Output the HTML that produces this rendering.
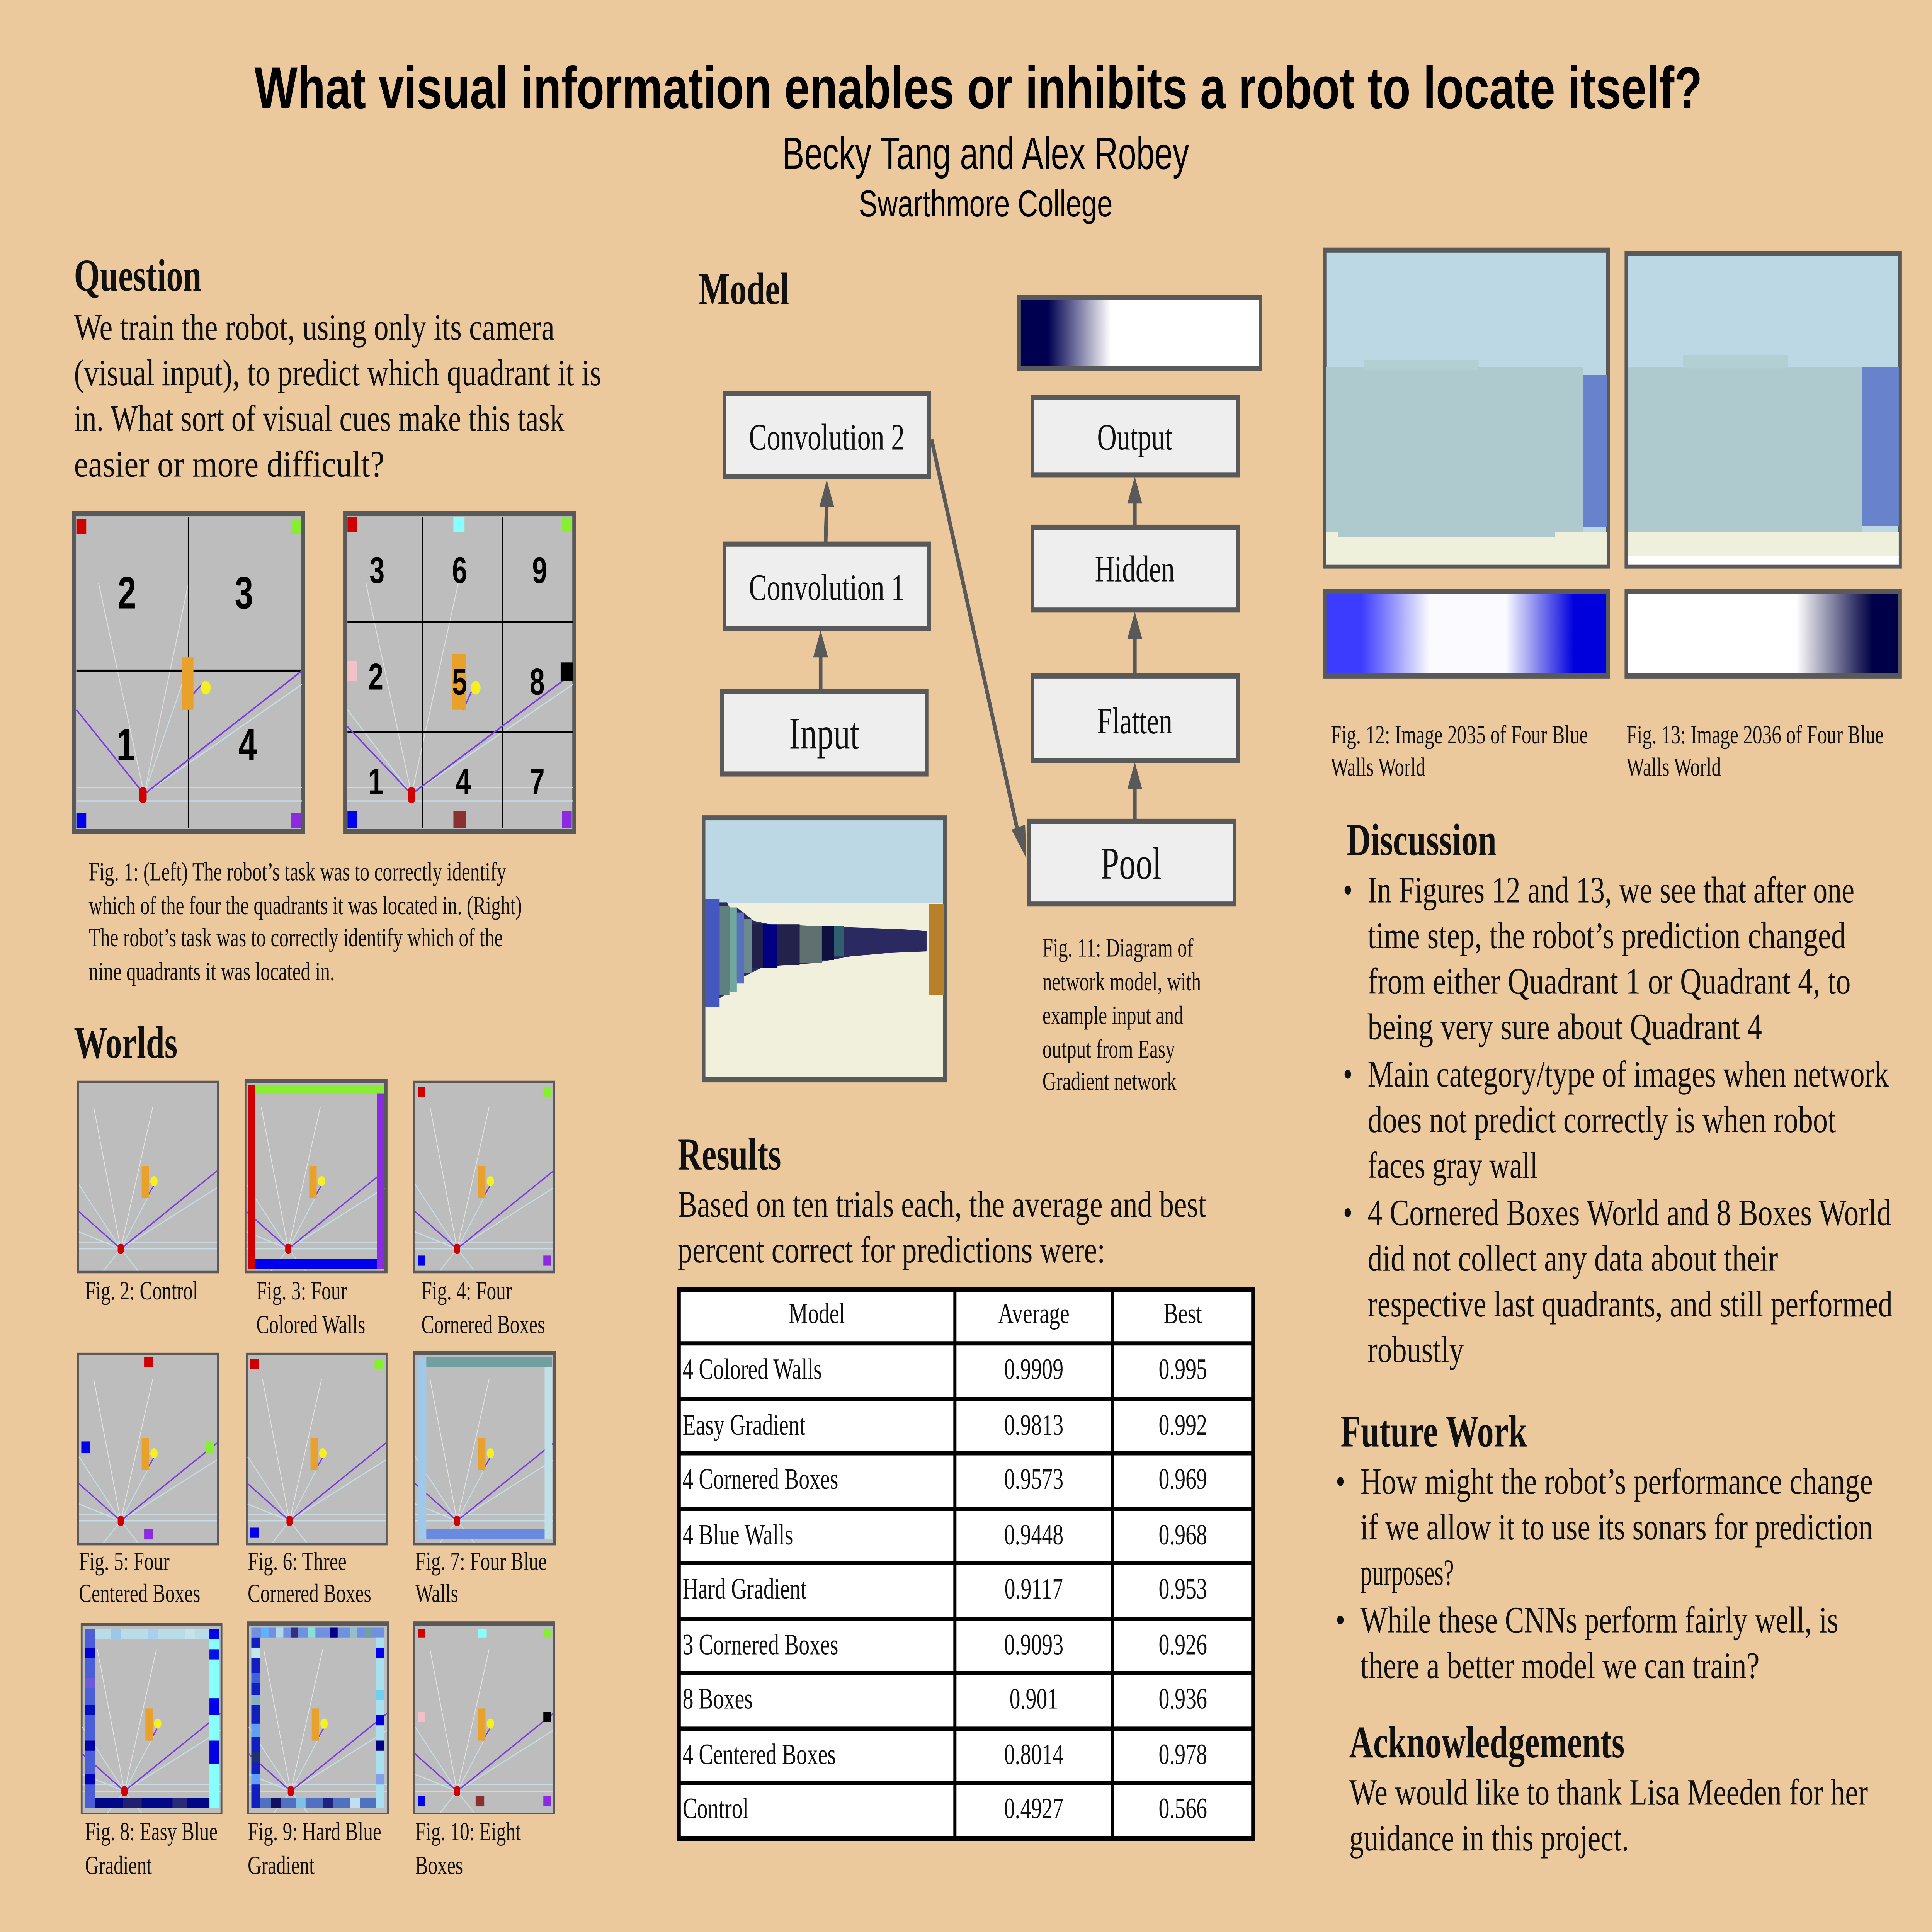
<!DOCTYPE html>
<html><head><meta charset="utf-8"><style>
html,body{margin:0;padding:0;background:#ebc99d;width:100%;height:100%;overflow:hidden;}
svg{display:block;position:absolute;left:0;top:0;width:100%;height:100%}
.s{font-family:"Liberation Serif",serif;fill:#111}
.b{font-family:"Liberation Serif",serif;font-weight:bold;fill:#111}
.n{font-family:"Liberation Sans",sans-serif;font-weight:bold;fill:#000}
</style></head><body>
<svg viewBox="0 0 1568 1143.3" preserveAspectRatio="none" xmlns="http://www.w3.org/2000/svg">
<defs>
<g id="th">
<rect x="0" y="0" width="112" height="111" fill="#bdbdbd"/>
<g stroke="#e4e4e4" stroke-width="0.6">
<line x1="34" y1="98" x2="12" y2="14"/><line x1="34" y1="98" x2="60" y2="14"/>
</g>
<g stroke="#c8dce6" stroke-width="0.7">
<line x1="34" y1="98" x2="0" y2="60"/><line x1="34" y1="98" x2="0" y2="88"/>
<line x1="34" y1="98" x2="60" y2="62"/><line x1="34" y1="98" x2="112" y2="62"/>
<line x1="0" y1="94" x2="112" y2="94"/><line x1="0" y1="98" x2="112" y2="98"/>
<line x1="34" y1="98" x2="20" y2="111"/><line x1="34" y1="98" x2="48" y2="111"/>
</g>
<g stroke="#7a3ee0" stroke-width="0.9">
<line x1="34" y1="98" x2="112" y2="52"/><line x1="34" y1="98" x2="0" y2="76"/><line x1="55" y1="68" x2="62" y2="59"/>
</g>
<rect x="51" y="49" width="6" height="19" fill="#e8a22b"/>
<circle cx="61" cy="58" r="3" fill="#f5f020"/>
<rect x="31.5" y="95" width="5" height="6" rx="2" fill="#d00000"/>
</g>
<linearGradient id="g1" x1="0" x2="1"><stop offset="0" stop-color="#000050"/><stop offset="0.12" stop-color="#000050"/><stop offset="0.38" stop-color="#ffffff"/><stop offset="1" stop-color="#ffffff"/></linearGradient>
<linearGradient id="g2" x1="0" x2="1"><stop offset="0" stop-color="#3c3cff"/><stop offset="0.13" stop-color="#3c3cff"/><stop offset="0.37" stop-color="#fafaff"/><stop offset="0.64" stop-color="#fafaff"/><stop offset="0.88" stop-color="#0000dd"/><stop offset="1" stop-color="#0000dd"/></linearGradient>
<linearGradient id="g3" x1="0" x2="1"><stop offset="0" stop-color="#ffffff"/><stop offset="0.62" stop-color="#ffffff"/><stop offset="0.85" stop-color="#2a2a60"/><stop offset="0.9" stop-color="#000048"/><stop offset="1" stop-color="#000048"/></linearGradient>
</defs>
<rect width="1568" height="1143.3" fill="#ebc99d"/>

<!-- header -->
<text x="794" y="64" text-anchor="middle" font-family="Liberation Sans,sans-serif" font-weight="bold" font-size="35" textLength="1175" lengthAdjust="spacingAndGlyphs" fill="#000">What visual information enables or inhibits a robot to locate itself?</text>
<text x="800" y="100" text-anchor="middle" font-family="Liberation Sans,sans-serif" font-size="27" textLength="330" lengthAdjust="spacingAndGlyphs" fill="#000">Becky Tang and Alex Robey</text>
<text x="800" y="128" text-anchor="middle" font-family="Liberation Sans,sans-serif" font-size="22" textLength="206" lengthAdjust="spacingAndGlyphs" fill="#000">Swarthmore College</text>

<!-- Question -->
<text x="60" y="172" class="b" font-size="27">Question</text>
<g class="s" font-size="22">
<text x="60" y="201" textLength="390" lengthAdjust="spacingAndGlyphs">We train the robot, using only its camera</text>
<text x="60" y="228" textLength="428" lengthAdjust="spacingAndGlyphs">(visual input), to predict which quadrant it is</text>
<text x="60" y="255" textLength="398" lengthAdjust="spacingAndGlyphs">in. What sort of visual cues make this task</text>
<text x="60" y="282" textLength="252" lengthAdjust="spacingAndGlyphs">easier or more difficult?</text>
</g>

<!-- Fig1 left -->
<rect x="60" y="304" width="186" height="188" fill="#bdbdbd" stroke="#595959" stroke-width="3"/>
<g stroke="#dedede" stroke-width="0.7"><line x1="117" y1="470" x2="80" y2="345"/><line x1="117" y1="470" x2="153" y2="345"/></g>
<g stroke="#c8dce6" stroke-width="0.8"><line x1="117" y1="470" x2="62" y2="420"/><line x1="117" y1="470" x2="150" y2="400"/><line x1="117" y1="470" x2="245" y2="405"/><line x1="62" y1="466" x2="245" y2="466"/><line x1="62" y1="474" x2="245" y2="474"/></g>
<line x1="153" y1="306" x2="153" y2="490" stroke="#000" stroke-width="1.2"/>
<line x1="62" y1="397" x2="245" y2="397" stroke="#000" stroke-width="1.5"/>
<g stroke="#7a3ee0" stroke-width="1"><line x1="117" y1="470" x2="245" y2="397"/><line x1="117" y1="470" x2="62" y2="420"/><line x1="155" y1="412" x2="164" y2="405"/></g>
<rect x="148" y="389" width="9" height="31" fill="#e8a22b"/>
<circle cx="167" cy="407" r="4" fill="#f5f020"/>
<rect x="113" y="466" width="6" height="9" rx="2" fill="#d00000"/>
<rect x="62" y="307" width="8" height="9" fill="#d00000"/><rect x="236" y="307" width="8" height="9" fill="#88ee33"/>
<rect x="62" y="481" width="8" height="9" fill="#0000ee"/><rect x="236" y="481" width="8" height="9" fill="#8a2be2"/>
<g class="n" font-size="27" text-anchor="middle"><text x="103" y="360">2</text><text x="198" y="360">3</text><text x="102" y="450">1</text><text x="201" y="450">4</text></g>

<!-- Fig1 right -->
<rect x="280" y="304" width="186" height="188" fill="#bdbdbd" stroke="#595959" stroke-width="3"/>
<g stroke="#dedede" stroke-width="0.7"><line x1="334" y1="470" x2="297" y2="345"/><line x1="334" y1="470" x2="372" y2="345"/></g>
<g stroke="#c8dce6" stroke-width="0.8"><line x1="282" y1="466" x2="465" y2="466"/><line x1="282" y1="474" x2="465" y2="474"/><line x1="334" y1="470" x2="465" y2="405"/><line x1="334" y1="470" x2="282" y2="420"/></g>
<g stroke="#000" stroke-width="1.2"><line x1="343" y1="306" x2="343" y2="490"/><line x1="408" y1="306" x2="408" y2="490"/><line x1="282" y1="368" x2="465" y2="368"/><line x1="282" y1="433" x2="465" y2="433"/></g>
<g stroke="#7a3ee0" stroke-width="1"><line x1="334" y1="470" x2="462" y2="400"/><line x1="334" y1="470" x2="282" y2="430"/><line x1="376" y1="420" x2="384" y2="407"/></g>
<rect x="367" y="387" width="11" height="33" fill="#e8a22b"/>
<circle cx="386" cy="407" r="4" fill="#f5f020"/>
<rect x="331" y="466" width="6" height="9" rx="2" fill="#d00000"/>
<rect x="282" y="306" width="8" height="9" fill="#d00000"/><rect x="368" y="306" width="9" height="9" fill="#88ffff"/><rect x="456" y="306" width="8" height="9" fill="#88ee33"/>
<rect x="282" y="391" width="8" height="12" fill="#f2c0c8"/><rect x="455" y="392" width="10" height="11" fill="#000"/>
<rect x="282" y="480" width="8" height="10" fill="#0000ee"/><rect x="368" y="480" width="10" height="10" fill="#8b3030"/><rect x="456" y="480" width="8" height="10" fill="#8a2be2"/>
<g class="n" font-size="22" text-anchor="middle"><text x="306" y="345">3</text><text x="373" y="345">6</text><text x="438" y="345">9</text><text x="305" y="408">2</text><text x="373" y="411">5</text><text x="436" y="411">8</text><text x="305" y="470">1</text><text x="376" y="470">4</text><text x="436" y="470">7</text></g>

<g class="s" font-size="15.5">
<text x="72" y="521">Fig. 1: (Left) The robot’s task was to correctly identify</text>
<text x="72" y="541">which of the four the quadrants it was located in. (Right)</text>
<text x="72" y="560">The robot’s task was to correctly identify which of the</text>
<text x="72" y="580">nine quadrants it was located in.</text>
</g>

<!-- Worlds -->
<text x="60" y="626" class="b" font-size="27">Worlds</text>
<g stroke="#595959" stroke-width="3" fill="none">
<rect x="64" y="641" width="112" height="111"/>
<rect x="200" y="640" width="113" height="112"/>
<rect x="337" y="641" width="112" height="111"/>
<rect x="64" y="802" width="112" height="111"/>
<rect x="201" y="802" width="112" height="111"/>
<rect x="337" y="801" width="113" height="112"/>
<rect x="67" y="962" width="112" height="110"/>
<rect x="202" y="961" width="112" height="111"/>
<rect x="337" y="961" width="112" height="111"/>
</g>
<use href="#th" transform="translate(64,641)"/>
<use href="#th" transform="translate(200,641)"/>
<use href="#th" transform="translate(337,641)"/>
<use href="#th" transform="translate(64,802)"/>
<use href="#th" transform="translate(201,802)"/>
<use href="#th" transform="translate(337,802)"/>
<use href="#th" transform="translate(67,962)"/>
<use href="#th" transform="translate(202,962)"/>
<use href="#th" transform="translate(337,962)"/>
<rect x="201" y="642" width="6" height="109" fill="#d00000"/>
<rect x="207" y="642" width="105" height="5" fill="#88ee33"/>
<rect x="306" y="647" width="6" height="104" fill="#8a2be2"/>
<rect x="207" y="745" width="99" height="6" fill="#0000ee"/>
<rect x="339" y="643" width="6" height="6" fill="#d00000"/><rect x="441" y="643" width="6" height="6" fill="#88ee33"/>
<rect x="339" y="743" width="6" height="6" fill="#0000ee"/><rect x="441" y="743" width="6" height="6" fill="#8a2be2"/>
<rect x="117" y="803" width="7" height="6" fill="#d00000"/><rect x="66" y="853" width="7" height="7" fill="#0000ee"/>
<rect x="167" y="853" width="7" height="7" fill="#88ee33"/><rect x="117" y="905" width="7" height="6" fill="#8a2be2"/>
<rect x="203" y="804" width="7" height="6" fill="#d00000"/><rect x="304" y="804" width="7" height="6" fill="#88ee33"/><rect x="203" y="904" width="7" height="6" fill="#0000ee"/>
<rect x="339" y="803" width="7" height="108" fill="#a0c8e8"/><rect x="346" y="803" width="102" height="6" fill="#70a0a0"/>
<rect x="442" y="809" width="6" height="102" fill="#c0e0e8"/><rect x="346" y="905" width="96" height="6" fill="#6a8ae0"/>
<g>
<rect x="69" y="964" width="8" height="106" fill="#4a5ed8"/>
<rect x="69" y="975" width="8" height="6" fill="#0000cc"/><rect x="69" y="993" width="8" height="6" fill="#6c5ad8"/><rect x="69" y="1009" width="8" height="6" fill="#0010c0"/><rect x="69" y="1030" width="8" height="6" fill="#0000aa"/><rect x="69" y="1050" width="8" height="6" fill="#0000bb"/>
<rect x="77" y="964" width="93" height="6" fill="#b8dce8"/>
<rect x="90" y="964" width="8" height="6" fill="#9cc8e8"/><rect x="120" y="964" width="8" height="6" fill="#a8d0ee"/><rect x="150" y="964" width="8" height="6" fill="#c4e4ea"/>
<rect x="170" y="964" width="8" height="106" fill="#88ffff"/>
<rect x="170" y="964" width="8" height="6" fill="#0000ee"/><rect x="170" y="976" width="8" height="6" fill="#0010e8"/><rect x="170" y="1005" width="8" height="10" fill="#0000ee"/><rect x="170" y="1030" width="8" height="14" fill="#0000e0"/>
<rect x="77" y="1064" width="93" height="6" fill="#000888"/>
<rect x="100" y="1064" width="15" height="6" fill="#202070"/><rect x="140" y="1064" width="12" height="6" fill="#2a2a7a"/>
</g>
<g>
<rect x="204" y="963" width="108" height="6" fill="#7090e0"/>
<rect x="212" y="963" width="6" height="6" fill="#60b0ff"/><rect x="224" y="963" width="6" height="6" fill="#b0d8e8"/><rect x="236" y="963" width="6" height="6" fill="#303080"/><rect x="250" y="963" width="6" height="6" fill="#88e0d8"/><rect x="268" y="963" width="6" height="6" fill="#000088"/><rect x="284" y="963" width="6" height="6" fill="#90c0d0"/><rect x="296" y="963" width="6" height="6" fill="#70a0a0"/>
<rect x="204" y="969" width="7" height="101" fill="#1020c0"/>
<rect x="204" y="975" width="7" height="6" fill="#c0e8f0"/><rect x="204" y="990" width="7" height="6" fill="#4060e0"/><rect x="204" y="1003" width="7" height="6" fill="#88b0c8"/><rect x="204" y="1020" width="7" height="8" fill="#60a0f0"/><rect x="204" y="1037" width="7" height="6" fill="#203070"/><rect x="204" y="1050" width="7" height="6" fill="#60a0ff"/>
<rect x="305" y="969" width="7" height="101" fill="#a8e0f0"/>
<rect x="305" y="975" width="7" height="6" fill="#0000ee"/><rect x="305" y="1000" width="7" height="6" fill="#70d0f0"/><rect x="305" y="1015" width="7" height="6" fill="#0000dd"/><rect x="305" y="1030" width="7" height="6" fill="#000080"/><rect x="305" y="1050" width="7" height="6" fill="#80a0e8"/>
<rect x="211" y="1064" width="94" height="6" fill="#5070c0"/>
<rect x="220" y="1064" width="8" height="6" fill="#101060"/><rect x="240" y="1064" width="8" height="6" fill="#80c0e8"/><rect x="262" y="1064" width="8" height="6" fill="#202080"/><rect x="284" y="1064" width="8" height="6" fill="#c0e0f0"/>
</g>
<rect x="339" y="964" width="6" height="5" fill="#d00000"/><rect x="388" y="964" width="7" height="5" fill="#88ffff"/><rect x="441" y="964" width="6" height="5" fill="#88ee33"/>
<rect x="339" y="1013" width="6" height="6" fill="#f2c0c8"/><rect x="441" y="1013" width="6" height="6" fill="#000"/>
<rect x="339" y="1063" width="6" height="6" fill="#0000ee"/><rect x="386" y="1063" width="7" height="6" fill="#8b3030"/><rect x="441" y="1063" width="6" height="6" fill="#8a2be2"/>

<g class="s" font-size="15.5">
<text x="69" y="769">Fig. 2: Control</text>
<text x="208" y="769">Fig. 3: Four</text><text x="208" y="789">Colored Walls</text>
<text x="342" y="769">Fig. 4: Four</text><text x="342" y="789">Cornered Boxes</text>
<text x="64" y="929">Fig. 5: Four</text><text x="64" y="948">Centered Boxes</text>
<text x="201" y="929">Fig. 6: Three</text><text x="201" y="948">Cornered Boxes</text>
<text x="337" y="929">Fig. 7: Four Blue</text><text x="337" y="948">Walls</text>
<text x="69" y="1089">Fig. 8: Easy Blue</text><text x="69" y="1109">Gradient</text>
<text x="201" y="1089">Fig. 9: Hard Blue</text><text x="201" y="1109">Gradient</text>
<text x="337" y="1089">Fig. 10: Eight</text><text x="337" y="1109">Boxes</text>
</g>

<!-- Model -->
<text x="567" y="180" class="b" font-size="27">Model</text>
<rect x="827" y="176" width="196" height="42" fill="url(#g1)" stroke="#595959" stroke-width="3"/>
<g fill="#eeeeee" stroke="#595959" stroke-width="3">
<rect x="588" y="233" width="166" height="49"/>
<rect x="588" y="322" width="166" height="50"/>
<rect x="586" y="409" width="166" height="49"/>
<rect x="838" y="235" width="167" height="46"/>
<rect x="838" y="312" width="167" height="49"/>
<rect x="838" y="400" width="167" height="50"/>
<rect x="835" y="486" width="167" height="49"/>
</g>
<g stroke="#595959" stroke-width="3" fill="none">
<line x1="670" y1="322" x2="671" y2="298"/>
<line x1="666" y1="409" x2="666" y2="388"/>
<line x1="921" y1="312" x2="921" y2="297"/>
<line x1="921" y1="400" x2="921" y2="377"/>
<line x1="921" y1="486" x2="921" y2="466"/>
<line x1="756" y1="260" x2="826" y2="492"/>
</g>
<g fill="#595959">
<polygon points="671,284 665,300 677,300"/>
<polygon points="666,373 660,389 672,389"/>
<polygon points="921,282 915,298 927,298"/>
<polygon points="921,362 915,378 927,378"/>
<polygon points="921,451 915,467 927,467"/>
<polygon points="833,508 821,491 832,488"/>
</g>
<g class="s" text-anchor="middle" fill="#000">
<text x="671" y="266" font-size="22">Convolution 2</text>
<text x="671" y="355" font-size="22">Convolution 1</text>
<text x="669" y="443" font-size="27">Input</text>
<text x="921" y="266" font-size="22">Output</text>
<text x="921" y="344" font-size="22">Hidden</text>
<text x="921" y="434" font-size="22">Flatten</text>
<text x="918" y="520" font-size="27">Pool</text>
</g>
<rect x="571" y="484" width="196" height="155" fill="#f0f0dc" stroke="#595959" stroke-width="3"/>
<rect x="572.5" y="485.5" width="193" height="49" fill="#bcd8e5"/>
<polygon points="572,532 583,532 583,534 590,534 592,537 598,537 605,541 612,545 625,547 660,548 700,549 735,550 752,551 752,563 720,564 690,566 660,570 620,572 598,580 590,588 572,596" fill="#2a2a60"/>
<rect x="572" y="532" width="12" height="64" fill="#4458c0"/>
<rect x="584" y="536" width="8" height="53" fill="#608080"/>
<rect x="592" y="537" width="6" height="50" fill="#70a8a0"/>
<rect x="598" y="540" width="6" height="42" fill="#5870c0"/>
<rect x="604" y="544" width="6" height="32" fill="#6a8a90"/>
<rect x="610" y="547" width="10" height="26" fill="#20204a"/>
<rect x="619" y="547" width="12" height="26" fill="#000080"/>
<rect x="631" y="547" width="18" height="24" fill="#22224a"/>
<rect x="649" y="548" width="18" height="22" fill="#607070"/>
<rect x="667" y="548" width="10" height="20" fill="#101040"/>
<rect x="677" y="548" width="8" height="18" fill="#306070"/>
<rect x="754" y="535" width="12" height="54" fill="#b8802a"/>
<g class="s" font-size="15.5">
<text x="846" y="566">Fig. 11: Diagram of</text>
<text x="846" y="586">network model, with</text>
<text x="846" y="606">example input and</text>
<text x="846" y="626">output from Easy</text>
<text x="846" y="645">Gradient network</text>
</g>

<!-- Results -->
<text x="550" y="692" class="b" font-size="27">Results</text>
<g class="s" font-size="22">
<text x="550" y="720" textLength="429" lengthAdjust="spacingAndGlyphs">Based on ten trials each, the average and best</text>
<text x="550" y="747" textLength="347" lengthAdjust="spacingAndGlyphs">percent correct for predictions were:</text>
</g>
<rect x="551" y="763" width="466" height="325" fill="#fff" stroke="#000" stroke-width="3"/>
<g stroke="#000" stroke-width="2.5">
<line x1="775" y1="763" x2="775" y2="1088"/><line x1="903" y1="763" x2="903" y2="1088"/>
<line x1="551" y1="795" x2="1017" y2="795"/><line x1="551" y1="828" x2="1017" y2="828"/><line x1="551" y1="860" x2="1017" y2="860"/><line x1="551" y1="893" x2="1017" y2="893"/><line x1="551" y1="925" x2="1017" y2="925"/><line x1="551" y1="958" x2="1017" y2="958"/><line x1="551" y1="990" x2="1017" y2="990"/><line x1="551" y1="1023" x2="1017" y2="1023"/><line x1="551" y1="1055" x2="1017" y2="1055"/>
</g>
<g class="s" font-size="17.5" fill="#000">
<text x="663" y="783" text-anchor="middle">Model</text><text x="839" y="783" text-anchor="middle">Average</text><text x="960" y="783" text-anchor="middle">Best</text>
<text x="554" y="816">4 Colored Walls</text><text x="839" y="816" text-anchor="middle">0.9909</text><text x="960" y="816" text-anchor="middle">0.995</text>
<text x="554" y="849">Easy Gradient</text><text x="839" y="849" text-anchor="middle">0.9813</text><text x="960" y="849" text-anchor="middle">0.992</text>
<text x="554" y="881">4 Cornered Boxes</text><text x="839" y="881" text-anchor="middle">0.9573</text><text x="960" y="881" text-anchor="middle">0.969</text>
<text x="554" y="914">4 Blue Walls</text><text x="839" y="914" text-anchor="middle">0.9448</text><text x="960" y="914" text-anchor="middle">0.968</text>
<text x="554" y="946">Hard Gradient</text><text x="839" y="946" text-anchor="middle">0.9117</text><text x="960" y="946" text-anchor="middle">0.953</text>
<text x="554" y="979">3 Cornered Boxes</text><text x="839" y="979" text-anchor="middle">0.9093</text><text x="960" y="979" text-anchor="middle">0.926</text>
<text x="554" y="1011">8 Boxes</text><text x="839" y="1011" text-anchor="middle">0.901</text><text x="960" y="1011" text-anchor="middle">0.936</text>
<text x="554" y="1044">4 Centered Boxes</text><text x="839" y="1044" text-anchor="middle">0.8014</text><text x="960" y="1044" text-anchor="middle">0.978</text>
<text x="554" y="1076">Control</text><text x="839" y="1076" text-anchor="middle">0.4927</text><text x="960" y="1076" text-anchor="middle">0.566</text>
</g>

<!-- right images -->
<rect x="1075" y="148" width="230" height="187" fill="#bcd8e5" stroke="#595959" stroke-width="3"/>
<rect x="1076" y="217" width="209" height="98" fill="#aecacf"/>
<rect x="1107" y="213" width="93" height="6" fill="#b2cfd4"/>
<rect x="1285" y="222" width="19" height="90" fill="#6883cc"/>
<rect x="1076" y="315" width="228" height="19" fill="#eef0dc"/>
<rect x="1086" y="312" width="176" height="6" fill="#aecacf"/>
<rect x="1320" y="150" width="222" height="185" fill="#bcd8e5" stroke="#595959" stroke-width="3"/>
<rect x="1321" y="217" width="190" height="98" fill="#aecacf"/>
<rect x="1366" y="210" width="85" height="8" fill="#b2cfd4"/>
<rect x="1511" y="217" width="30" height="94" fill="#6883cc"/>
<rect x="1321" y="315" width="220" height="15" fill="#eef0dc"/>
<rect x="1321" y="329" width="220" height="5" fill="#fff"/>
<rect x="1075" y="350" width="230" height="50" fill="url(#g2)" stroke="#595959" stroke-width="3"/>
<rect x="1320" y="350" width="222" height="50" fill="url(#g3)" stroke="#595959" stroke-width="3"/>
<g class="s" font-size="15.5">
<text x="1080" y="440">Fig. 12: Image 2035 of Four Blue</text><text x="1080" y="459">Walls World</text>
<text x="1320" y="440">Fig. 13: Image 2036 of Four Blue</text><text x="1320" y="459">Walls World</text>
</g>

<!-- Discussion -->
<text x="1093" y="506" class="b" font-size="27">Discussion</text>
<g class="s" font-size="22">
<text x="1090" y="534">•</text><text x="1110" y="534" textLength="395" lengthAdjust="spacingAndGlyphs">In Figures 12 and 13, we see that after one</text>
<text x="1110" y="561" textLength="388" lengthAdjust="spacingAndGlyphs">time step, the robot’s prediction changed</text>
<text x="1110" y="588" textLength="392" lengthAdjust="spacingAndGlyphs">from either Quadrant 1 or Quadrant 4, to</text>
<text x="1110" y="615" textLength="320" lengthAdjust="spacingAndGlyphs">being very sure about Quadrant 4</text>
<text x="1090" y="643">•</text><text x="1110" y="643" textLength="423" lengthAdjust="spacingAndGlyphs">Main category/type of images when network</text>
<text x="1110" y="670" textLength="380" lengthAdjust="spacingAndGlyphs">does not predict correctly is when robot</text>
<text x="1110" y="697" textLength="138" lengthAdjust="spacingAndGlyphs">faces gray wall</text>
<text x="1090" y="725">•</text><text x="1110" y="725" textLength="425" lengthAdjust="spacingAndGlyphs">4 Cornered Boxes World and 8 Boxes World</text>
<text x="1110" y="752" textLength="333" lengthAdjust="spacingAndGlyphs">did not collect any data about their</text>
<text x="1110" y="779" textLength="426" lengthAdjust="spacingAndGlyphs">respective last quadrants, and still performed</text>
<text x="1110" y="806" textLength="78" lengthAdjust="spacingAndGlyphs">robustly</text>
</g>
<text x="1088" y="856" class="b" font-size="27">Future Work</text>
<g class="s" font-size="22">
<text x="1084" y="884">•</text><text x="1104" y="884" textLength="416" lengthAdjust="spacingAndGlyphs">How might the robot’s performance change</text>
<text x="1104" y="911" textLength="416" lengthAdjust="spacingAndGlyphs">if we allow it to use its sonars for prediction</text>
<text x="1104" y="938" textLength="76" lengthAdjust="spacingAndGlyphs">purposes?</text>
<text x="1084" y="966">•</text><text x="1104" y="966" textLength="388" lengthAdjust="spacingAndGlyphs">While these CNNs perform fairly well, is</text>
<text x="1104" y="993" textLength="324" lengthAdjust="spacingAndGlyphs">there a better model we can train?</text>
</g>
<text x="1095" y="1040" class="b" font-size="27">Acknowledgements</text>
<g class="s" font-size="22">
<text x="1095" y="1068" textLength="421" lengthAdjust="spacingAndGlyphs">We would like to thank Lisa Meeden for her</text>
<text x="1095" y="1095" textLength="227" lengthAdjust="spacingAndGlyphs">guidance in this project.</text>
</g>
</svg>
</body></html>
